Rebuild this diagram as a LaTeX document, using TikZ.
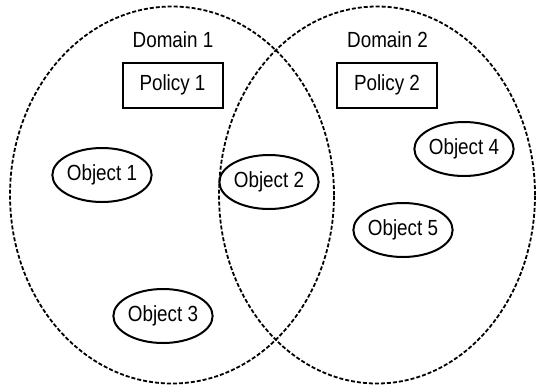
\documentclass[tikz,border=0pt]{standalone}
\usepackage{fontspec}
\setmainfont[FakeStretch=0.86]{Liberation Sans}
\usepackage{tikz}
\usetikzlibrary{shapes, positioning}

\begin{document}
\begin{tikzpicture}[
  x=1bp, y=-1bp,
  domainbox/.style={ellipse, draw=black, line width=1.8bp, dash pattern=on 4bp off 2bp,
                 inner sep=0pt},
  policy/.style={rectangle, draw=black, line width=2bp,
                 minimum width=100bp, minimum height=45bp,
                 font=\fontsize{22}{26}\selectfont},
  object/.style={ellipse, draw=black, line width=2bp, inner sep=0pt,
                 minimum width=95bp, minimum height=54bp,
                 font=\fontsize{22}{26}\selectfont},
  domlabel/.style={font=\fontsize{22}{26}\selectfont},
  node distance=1.4cm and 2.2cm
]
  \useasboundingbox (0,0) rectangle (537,386);

  \node[domainbox, minimum width=324bp, minimum height=377bp] (dom1) at (172,195) {};
  \node[domainbox, minimum width=316bp, minimum height=377bp] (dom2) at (377,195) {};

  \node[domlabel] (dom1lbl) at (173,40)   {Domain 1};
  \node[domlabel] (dom2lbl) at (387.5,40) {Domain 2};

  \node[policy] (pol1) at (172.5,85) {Policy 1};
  \node[policy] (pol2) at (387,85)   {Policy 2};

  \node[object] (obj1) at (102,175) {Object 1};
  \node[object] (obj2) at (269,182) {Object 2};
  \node[object] (obj3) at (163,316) {Object 3};
  \node[object] (obj4) at (464,149) {Object 4};
  \node[object] (obj5) at (403,230) {Object 5};

\end{tikzpicture}
\end{document}
